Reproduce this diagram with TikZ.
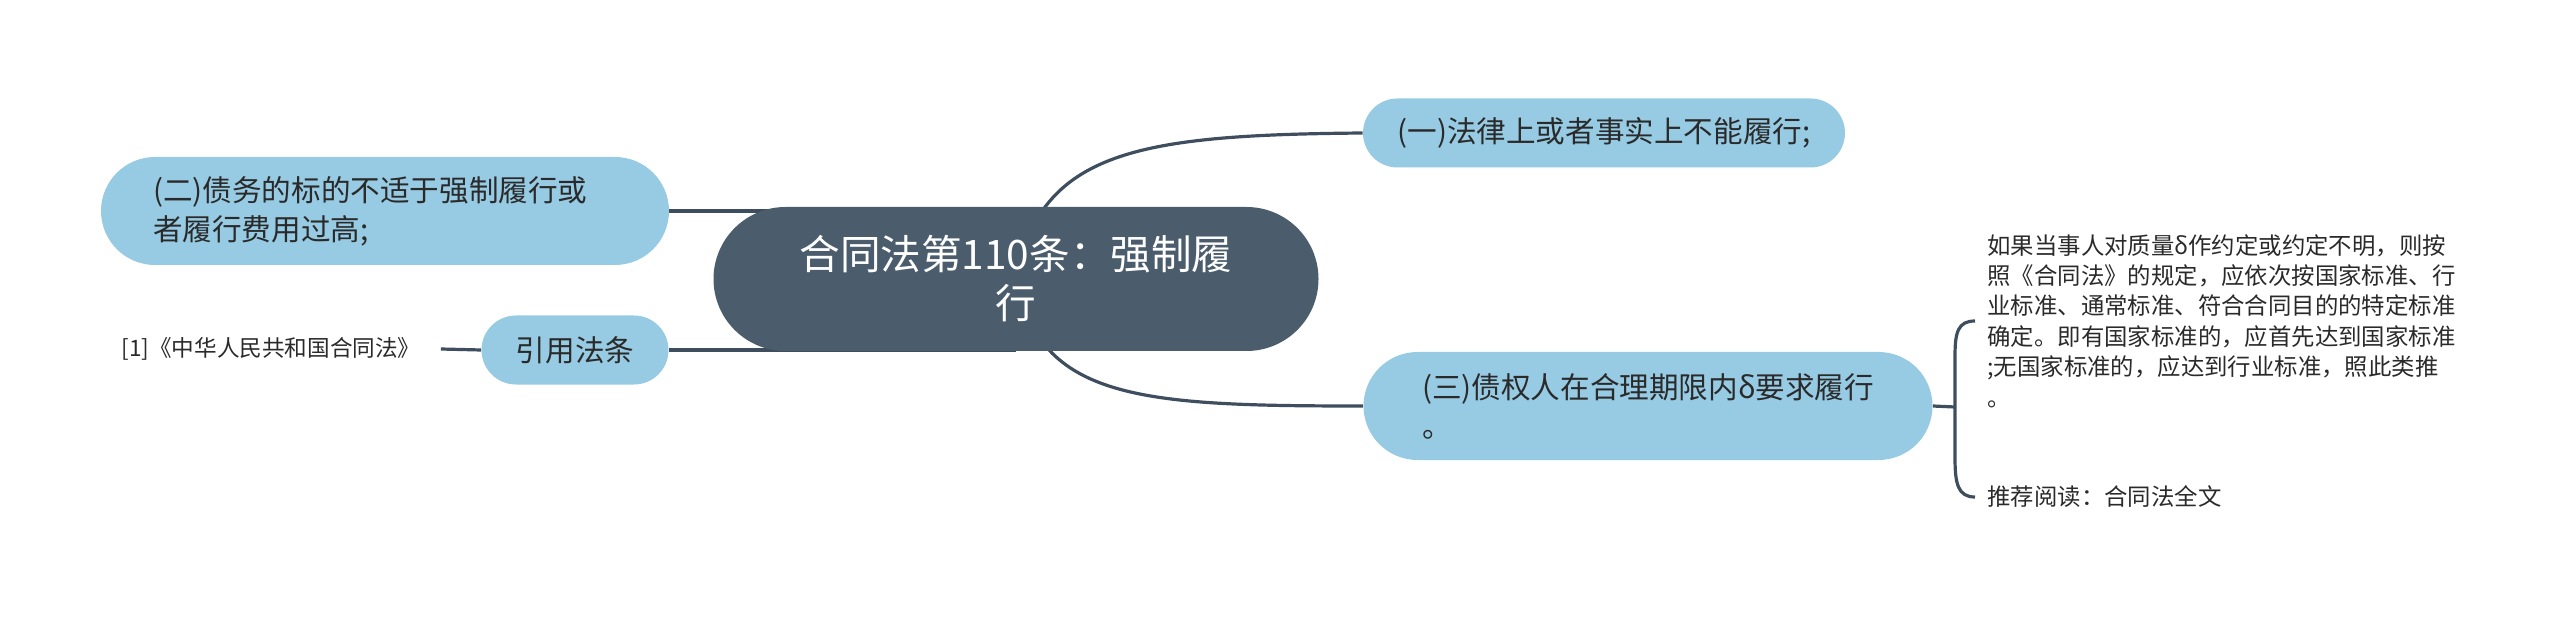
\documentclass[tikz,border=0pt]{standalone}
\usepackage{fontspec}
\setmainfont{Noto Sans CJK SC}
\usetikzlibrary{backgrounds}
\definecolor{hubfill}{HTML}{4B5D6D}
\definecolor{leaffill}{HTML}{97CBE3}
\definecolor{inkgrey}{HTML}{2A2A2A}
\definecolor{linecol}{HTML}{3E4E5E}
\tikzset{
  hub/.style={fill=hubfill, text=white, rounded corners=36pt, minimum width=302.5pt,
    minimum height=72pt, align=center, font=\fontsize{20.3pt}{24.5pt}\selectfont},
  pill/.style={fill=leaffill, text=inkgrey, minimum height=#1, rounded corners=#1/2,
    font=\fontsize{14.8pt}{19.5pt}\selectfont},
  note/.style={text=inkgrey, inner sep=0pt, align=left,
    font=\fontsize{11.7pt}{15.2pt}\selectfont},
  link/.style={draw=linecol, line width=1.6pt}
}

\begin{document}
\begin{tikzpicture}[x=0.5pt,y=-0.5pt]
    \useasboundingbox (0,0) rectangle (2560,620);
    % centre and first level
    \node[hub] (hub) at (1016,279) {合同法第110条：强制履\\行};
    \node[pill=34.5pt, minimum width=241pt] (impossible) at (1604,133) {(一)法律上或者事实上不能履行;};
    \node[pill=54pt, minimum width=284pt, text width=232pt, inner xsep=26pt, align=left] (unfit) at (385,211)
        {(二)债务的标的不适于强制履行或\\者履行费用过高;};
    \node[pill=54pt, minimum width=284.5pt, align=left] (overdue) at (1648,406)
        {(三)债权人在合理期限内δ要求履行\\。};
    \node[pill=34.5pt, minimum width=93.5pt] (cite) at (575,350) {引用法条};
    % leaves
    \node[note, inner xsep=10pt, font=\fontsize{11.3pt}{14pt}\selectfont] (law) at (271,349) {[1]《中华人民共和国合同法》};
    \node[note, anchor=west] (detail) at (1987,321)
        {如果当事人对质量δ作约定或约定不明，则按\\照《合同法》的规定，应依次按国家标准、行\\业标准、通常标准、符合合同目的的特定标准\\确定。即有国家标准的，应首先达到国家标准\\;无国家标准的，应达到行业标准，照此类推\\。};
    \node[note, anchor=west] (reading) at (1987,497) {推荐阅读：合同法全文};
    \coordinate (bracetop) at ([xshift=-6pt]detail.west);
    \coordinate (bracebot) at ([xshift=-6pt]reading.west);
    \coordinate (bracemid) at (1955,407);

    \begin{scope}[on background layer]
        \draw[link] (hub.center) .. controls (1040,150) and (1140,135) .. (impossible.west);
        \draw[link] (hub.center) .. controls (1040,400) and (1140,406) .. (overdue.west);
        \draw[link] (unfit.east) -- (unfit.east -| hub.center);
        \draw[link] (cite.east) -- (cite.east -| hub.center);
    \end{scope}
    \draw[link] (law.east) -- (cite.west);
    \draw[link] (overdue.east) -- (bracemid);
    \draw[link] (bracetop) .. controls (1958,321) and (1955,332) .. (1955,356) -- (1955,458)
        .. controls (1955,484) and (1958,497) .. (bracebot);
\end{tikzpicture}
\end{document}
